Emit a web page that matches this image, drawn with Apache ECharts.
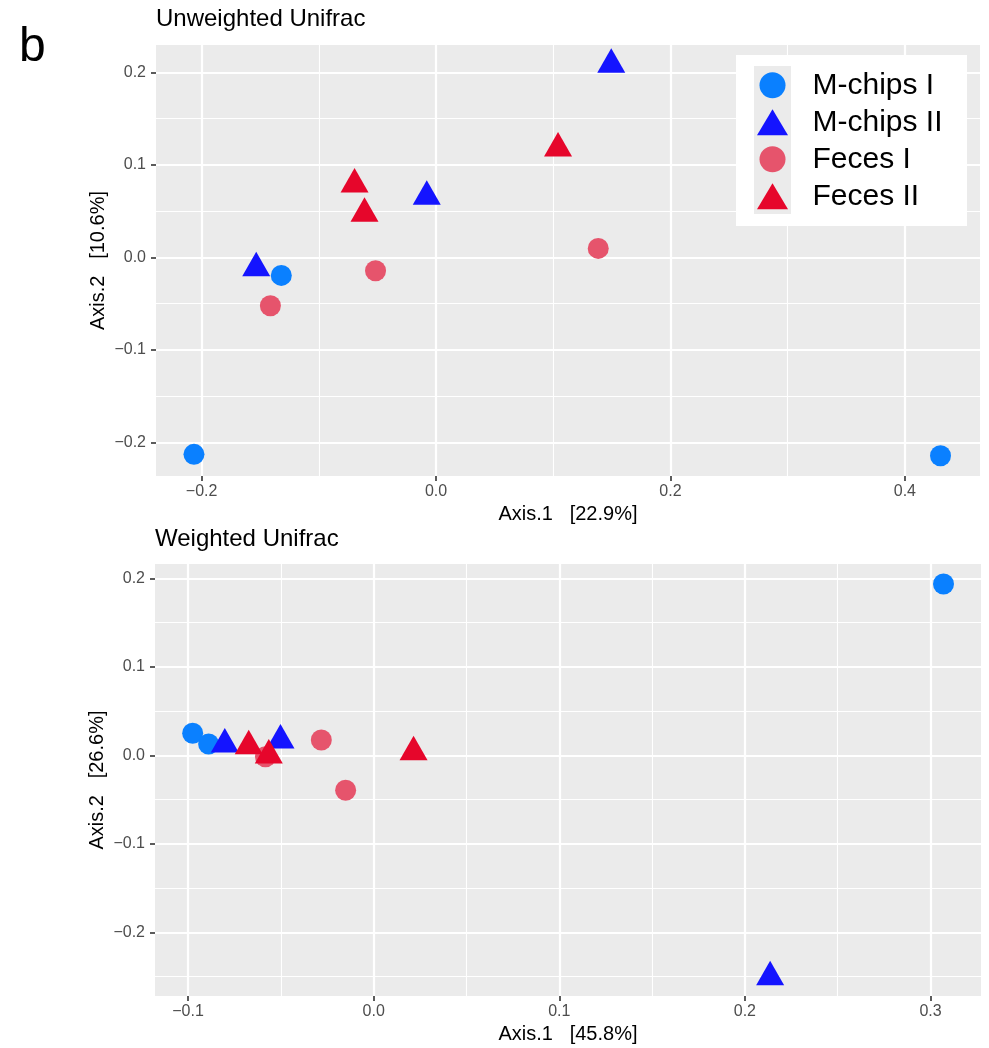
<!DOCTYPE html>
<html>
<head>
<meta charset="utf-8">
<script src="https://cdn.jsdelivr.net/npm/echarts@6/dist/echarts.min.js"></script>
<style>
  html, body { margin: 0; padding: 0; background: #ffffff; }
  #chart { width: 989px; height: 1048px; }
</style>
</head>
<body>
<div id="chart"></div>
<script>
// Sample groups
const groups = ['M-chips I', 'M-chips II', 'Feces I', 'Feces II'];
const groupColors = ['#0A80FF', '#1414FF', '#E6546C', '#E6062B'];
const groupShapes = ['circle', 'triangle', 'circle', 'triangle'];

// PCoA coordinates [Axis.1, Axis.2] — Unweighted UniFrac
const unwMchipsI  = [[-0.132, -0.0195], [-0.2065, -0.213], [0.4304, -0.2145]];
const unwMchipsII = [[-0.1534, -0.0116], [-0.0079, 0.0657], [0.1495, 0.2084]];
const unwFecesI   = [[-0.1413, -0.0523], [-0.0516, -0.0144], [0.1384, 0.0097]];
const unwFecesII  = [[-0.0695, 0.0789], [-0.061, 0.0475], [0.1041, 0.118]];

// PCoA coordinates [Axis.1, Axis.2] — Weighted UniFrac
const wMchipsI  = [[-0.0975, 0.0249], [-0.0889, 0.0128], [0.307, 0.1936]];
const wMchipsII = [[-0.0802, 0.0124], [-0.0502, 0.0169], [0.2136, -0.2505]];
const wFecesI   = [[-0.0583, -0.0016], [-0.0282, 0.0173], [-0.0151, -0.0395]];
const wFecesII  = [[-0.0673, 0.0105], [-0.0565, 0.0], [0.0215, 0.0037]];

// Panel titles and axis titles
const panelTitles = ['Unweighted Unifrac', 'Weighted Unifrac'];
const xTitles = ['Axis.1   [22.9%]', 'Axis.1   [45.8%]'];
const yTitles = ['Axis.2   [10.6%]', 'Axis.2   [26.6%]'];

// Axis ranges, tick labels and minor grid positions
const unwXRange = [-0.2389, 0.4641];
const unwYRange = [-0.2364, 0.2297];
const unwXTicks = [-0.2, 0.0, 0.2, 0.4];
const unwXMinor = [-0.1, 0.1, 0.3];
const unwYTicks = [-0.2, -0.1, 0.0, 0.1, 0.2];
const unwYMinor = [-0.15, -0.05, 0.05, 0.15];

const wXRange = [-0.1178, 0.3272];
const wYRange = [-0.272, 0.2162];
const wXTicks = [-0.1, 0.0, 0.1, 0.2, 0.3];
const wXMinor = [-0.05, 0.05, 0.15, 0.25];
const wYTicks = [-0.2, -0.1, 0.0, 0.1, 0.2];
const wYMinor = [-0.25, -0.15, -0.05, 0.05, 0.15];

const panelData = [
  [unwMchipsI, unwMchipsII, unwFecesI, unwFecesII],
  [wMchipsI, wMchipsII, wFecesI, wFecesII]
];

const FONT = '"Liberation Sans", Arial, Helvetica, sans-serif';
const fmt = v => (v < 0 ? '\u2212' : '') + Math.abs(v).toFixed(1);

function majorAxis(gridIndex, range, ticks, name, isY) {
  const ax = {
    type: 'value', gridIndex: gridIndex,
    min: range[0], max: range[1],
    position: isY ? 'left' : 'bottom',
    name: name, nameLocation: 'middle',
    nameGap: isY ? 48 : 28,
    nameMoveOverlap: false,
    nameTextStyle: { fontFamily: FONT, fontSize: 20, color: '#000000' },
    axisLine: { show: false, onZero: false },
    axisTick: { show: true, inside: false, length: 5, customValues: ticks,
                lineStyle: { color: '#333333', width: 1.6 } },
    axisLabel: { show: true, customValues: ticks, formatter: fmt, margin: isY ? 10 : 8,
                 fontFamily: FONT, fontSize: 16, color: '#4D4D4D' },
    splitLine: { show: true, lineStyle: { color: '#FFFFFF', width: 2.2 } },
    minorTick: { show: false }, minorSplitLine: { show: false }
  };
  if (isY) ax.nameRotate = 90;
  return ax;
}

function minorAxis(gridIndex, range, ticks, isY) {
  return {
    type: 'value', gridIndex: gridIndex,
    min: range[0], max: range[1],
    position: isY ? 'right' : 'top',
    axisLine: { show: false, onZero: false },
    axisTick: { show: false, customValues: ticks },
    axisLabel: { show: false, customValues: ticks },
    splitLine: { show: true, lineStyle: { color: '#FFFFFF', width: 1.1 } }
  };
}

const xAxes = [
  majorAxis(0, unwXRange, unwXTicks, xTitles[0], false),
  minorAxis(0, unwXRange, unwXMinor, false),
  majorAxis(1, wXRange, wXTicks, xTitles[1], false),
  minorAxis(1, wXRange, wXMinor, false)
];
const yAxes = [
  majorAxis(0, unwYRange, unwYTicks, yTitles[0], true),
  minorAxis(0, unwYRange, unwYMinor, true),
  majorAxis(1, wYRange, wYTicks, yTitles[1], true),
  minorAxis(1, wYRange, wYMinor, true)
];

const series = [];
panelData.forEach((sets, p) => {
  sets.forEach((pts, g) => {
    const tri = groupShapes[g] === 'triangle';
    series.push({
      type: 'scatter',
      name: groups[g],
      xAxisIndex: p * 2,
      yAxisIndex: p * 2,
      data: pts,
      symbol: groupShapes[g],
      symbolSize: tri ? [28, 24.5] : 21,
      symbolOffset: tri ? [0, -4.1] : [0, 0],
      itemStyle: { color: groupColors[g], opacity: 1 },
      emphasis: { disabled: true },
      z: 2
    });
  });
});

const chart = echarts.init(document.getElementById('chart'), null, { renderer: 'canvas' });
chart.setOption({
  animation: false,
  backgroundColor: '#FFFFFF',
  textStyle: { fontFamily: FONT },
  title: [
    { text: 'b', left: 19, top: 24, padding: 0,
      textStyle: { fontFamily: FONT, fontSize: 48, fontWeight: 'normal', color: '#000000' } },
    { text: panelTitles[0], left: 156, top: 7, padding: 0,
      textStyle: { fontFamily: FONT, fontSize: 24, fontWeight: 'normal', color: '#000000' } },
    { text: panelTitles[1], left: 155, top: 527, padding: 0,
      textStyle: { fontFamily: FONT, fontSize: 24, fontWeight: 'normal', color: '#000000' } }
  ],
  grid: [
    { left: 156, top: 45, width: 824, height: 431, show: true,
      backgroundColor: '#EBEBEB', borderWidth: 0, containLabel: false },
    { left: 155, top: 564, width: 826, height: 432, show: true,
      backgroundColor: '#EBEBEB', borderWidth: 0, containLabel: false }
  ],
  xAxis: xAxes,
  yAxis: yAxes,
  legend: {
    orient: 'vertical',
    left: 757, top: 70.3,
    padding: 0,
    itemWidth: 31, itemHeight: 26, itemGap: 7,
    selectedMode: false,
    z: 5,
    data: groups.map((g, i) => ({ name: g, icon: groupShapes[i] })),
    textStyle: { fontFamily: FONT, fontSize: 30, color: '#000000',
                 lineHeight: 26, padding: [0, 0, 0, 19.5] }
  },
  graphic: [
    { type: 'rect', z: 3, silent: true,
      shape: { x: 736, y: 55, width: 231, height: 171 },
      style: { fill: '#FFFFFF' } },
    { type: 'rect', z: 3, silent: true,
      shape: { x: 754, y: 66, width: 37, height: 148 },
      style: { fill: '#EBEBEB' } }
  ],
  series: series
});
</script>
</body>
</html>
